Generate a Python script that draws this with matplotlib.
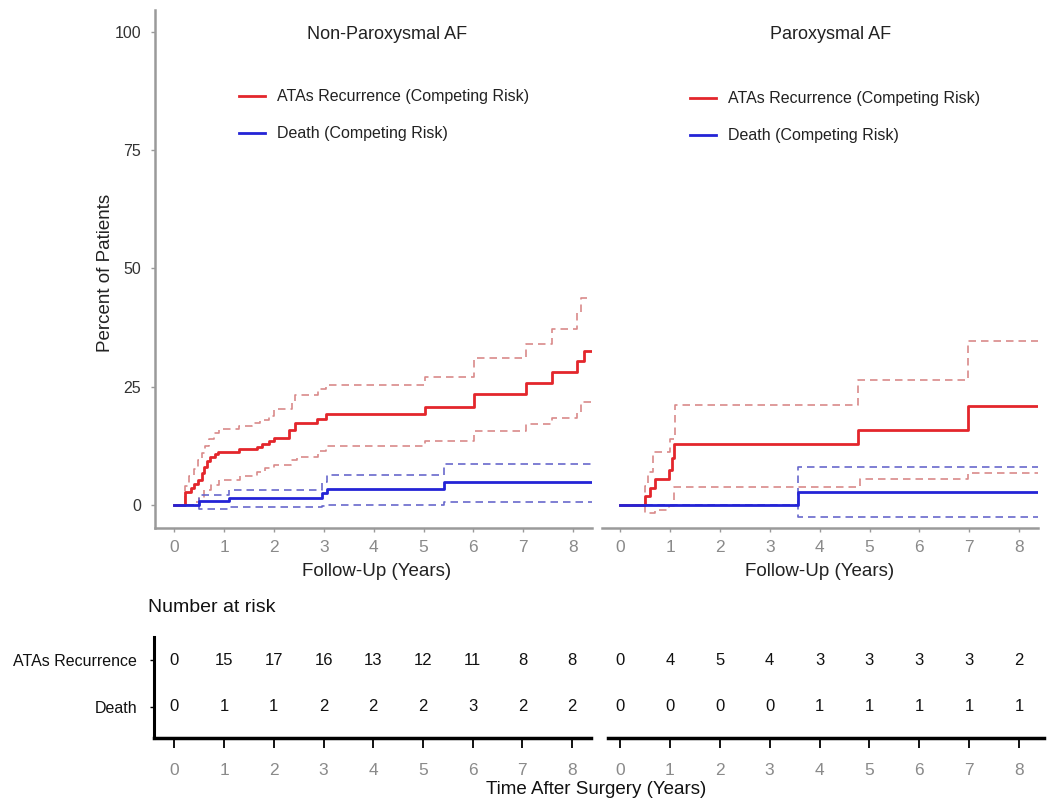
import matplotlib
matplotlib.use('Agg')
import matplotlib.pyplot as plt

plt.rcParams['font.family'] = ['Liberation Sans', 'DejaVu Sans']

# ---------------- data ----------------
# Non-Paroxysmal AF
np_ata_t = [0, 0.22, 0.33, 0.40, 0.48, 0.55, 0.60, 0.66, 0.72, 0.82, 0.88, 1.29, 1.66, 1.76,
            1.90, 2.00, 2.30, 2.42, 2.87, 3.04, 5.03, 6.02, 7.06, 7.57, 8.08, 8.21]
np_ata_v = [0, 2.8, 3.6, 4.3, 5.2, 6.8, 8.0, 9.2, 10.2, 10.8, 11.2, 11.7, 12.3, 12.9,
            13.5, 14.2, 15.9, 17.3, 18.1, 19.1, 20.6, 23.4, 25.7, 28.0, 30.3, 32.6]
np_ata_up_t = [0, 0.22, 0.30, 0.40, 0.48, 0.55, 0.62, 0.70, 0.80, 0.90, 1.29, 1.56, 1.72, 1.89,
               1.99, 2.35, 2.42, 2.89, 3.04, 5.03, 6.02, 7.06, 7.57, 8.07, 8.16]
np_ata_up_v = [0, 4.0, 6.0, 7.5, 9.5, 11.0, 12.5, 14.0, 15.2, 16.0, 16.6, 17.3, 18.0, 18.7,
               20.2, 21.8, 23.2, 24.4, 25.4, 27.1, 31.0, 34.0, 37.1, 40.5, 43.8]
np_ata_lo_t = [0, 0.40, 0.50, 0.60, 0.73, 0.90, 1.31, 1.66, 1.82, 1.99, 2.33, 2.46, 2.89, 3.04,
               5.03, 6.02, 7.06, 7.57, 8.07, 8.16]
np_ata_lo_v = [0, 0.5, 1.4, 3.2, 4.2, 5.3, 6.1, 7.0, 7.7, 8.5, 9.5, 10.2, 11.3, 12.5,
               13.5, 15.5, 17.1, 18.3, 19.7, 21.8]
np_death_t = [0, 0.49, 1.09, 2.97, 3.07, 5.41]
np_death_v = [0, 0.9, 1.5, 2.5, 3.4, 4.8]
np_death_up_v = [0, 2.0, 3.2, 4.9, 6.3, 8.7]
np_death_lo_v = [0, -0.8, -0.4, -0.2, 0.0, 0.6]
np_end = 8.38

# Paroxysmal AF
p_ata_t = [0, 0.50, 0.60, 0.70, 0.97, 1.04, 1.07, 4.76, 6.97]
p_ata_v = [0, 1.8, 3.5, 5.4, 7.3, 10.0, 12.8, 15.9, 20.8]
p_ata_up_t = [0, 0.50, 0.55, 0.65, 1.00, 1.10, 4.76, 6.97]
p_ata_up_v = [0, 4.0, 7.0, 11.1, 14.0, 21.1, 26.3, 34.7]
p_ata_lo_t = [0, 0.50, 0.70, 0.97, 1.07, 4.80, 6.97]
p_ata_lo_v = [0, -1.7, -1.2, -0.3, 3.7, 5.4, 6.7]
p_death_t = [0, 3.56]
p_death_v = [0, 2.7]
p_death_up_v = [0, 7.9]
p_death_lo_v = [0, -2.6]
p_end = 8.38

# Number at risk
risk_times = [0, 1, 2, 3, 4, 5, 6, 7, 8]
np_risk_ata = [0, 15, 17, 16, 13, 12, 11, 8, 8]
np_risk_death = [0, 1, 1, 2, 2, 2, 3, 2, 2]
p_risk_ata = [0, 4, 5, 4, 3, 3, 3, 3, 2]
p_risk_death = [0, 0, 0, 0, 1, 1, 1, 1, 1]
row_labels = ['ATAs Recurrence', 'Death']

y_ticks = [0, 25, 50, 75, 100]
x_ticks = [0, 1, 2, 3, 4, 5, 6, 7, 8]

# ---------------- styling ----------------
RED = '#e3262c'
BLUE = '#2424d6'
RED_CI = '#d98a8a'
BLUE_CI = '#6868cc'
AXIS_GREY = '#9a9a9a'
TICK_GREY = '#8a8a8a'
DASH = (0, (4.5, 3))

W, H = 1050, 806
fig = plt.figure(figsize=(W / 100, H / 100), dpi=100)


def rect(x0, y0, x1, y1):
    return [x0 / W, 1 - y1 / H, (x1 - x0) / W, (y1 - y0) / H]


def steps(ax, t, v, end, **kw):
    return ax.step(list(t) + [end], list(v) + [v[-1]], where='post', **kw)[0]


ax1 = fig.add_axes(rect(155, 10, 592, 528))
ax2 = fig.add_axes(rect(602, 10, 1038, 528))

panels = [
    (ax1, 'Non-Paroxysmal AF', np_ata_t, np_ata_v, np_ata_up_t, np_ata_up_v, np_ata_lo_t, np_ata_lo_v,
     np_death_t, np_death_v, np_death_up_v, np_death_lo_v, np_end, (-0.39, 8.38), 0.531, (0.192, 0.847), 0.508),
    (ax2, 'Paroxysmal AF', p_ata_t, p_ata_v, p_ata_up_t, p_ata_up_v, p_ata_lo_t, p_ata_lo_v,
     p_death_t, p_death_v, p_death_up_v, p_death_lo_v, p_end, (-0.37, 8.38), 0.525, (0.202, 0.843), 0.50),
]

for (ax, title, at, av, aut, auv, alt, alv, dt, dv, duv, dlv, end, xl, tx, legpos, xlx) in panels:
    steps(ax, aut, auv, end, color=RED_CI, lw=1.2, linestyle=DASH)
    steps(ax, alt, alv, end, color=RED_CI, lw=1.2, linestyle=DASH)
    steps(ax, dt, duv, end, color=BLUE_CI, lw=1.2, linestyle=DASH)
    steps(ax, dt, dlv, end, color=BLUE_CI, lw=1.2, linestyle=DASH)
    h1 = steps(ax, at, av, end, color=RED, lw=2.0, label='ATAs Recurrence (Competing Risk)')
    h2 = steps(ax, dt, dv, end, color=BLUE, lw=2.0, label='Death (Competing Risk)')

    ax.set_xlim(*xl)
    ax.set_ylim(-4.9, 104.6)
    ax.set_xticks(x_ticks)
    ax.set_yticks(y_ticks)
    ax.tick_params(axis='x', colors=AXIS_GREY, labelcolor=TICK_GREY, labelsize=12.5,
                   length=3, width=1, pad=5.5)
    for s in ['top', 'right']:
        ax.spines[s].set_visible(False)
    ax.spines['bottom'].set_color(AXIS_GREY)
    ax.spines['bottom'].set_linewidth(1.8)
    ax.spines['left'].set_color(AXIS_GREY)
    ax.spines['left'].set_linewidth(1.8)

    ax.text(tx, 0.952, title, transform=ax.transAxes, ha='center', va='center', fontsize=13, color='#222222')
    ax.set_xlabel('Follow-Up (Years)', fontsize=13.5, color='#222222')
    ax.xaxis.set_label_coords(xlx, -0.068)
    ax.legend(handles=[h1, h2], loc='upper left', bbox_to_anchor=legpos, frameon=False,
              fontsize=11.5, handlelength=1.63, handletextpad=0.75, labelspacing=1.38,
              borderpad=0, borderaxespad=0, labelcolor='#222222')

ax1.tick_params(axis='y', colors=AXIS_GREY, labelcolor='#333333', labelsize=11.5, length=3, width=1, pad=7)
ax1.set_ylabel('Percent of Patients', fontsize=13.5, color='#222222')
ax1.yaxis.set_label_coords(-0.094, 0.492)
ax2.spines['left'].set_visible(False)
ax2.tick_params(axis='y', left=False, labelleft=False)

# ---------------- Number at risk table ----------------
tb1 = fig.add_axes(rect(154, 637, 591, 738))
tb2 = fig.add_axes(rect(608, 637, 1044, 738))
row_y = [1, 0]

for tb, xl, ra, rd in [(tb1, (-0.41, 8.38), np_risk_ata, np_risk_death),
                       (tb2, (-0.24, 8.5), p_risk_ata, p_risk_death)]:
    tb.set_xlim(*xl)
    tb.set_ylim(-0.66, 1.49)
    tb.set_xticks(x_ticks)
    tb.tick_params(axis='x', colors='black', labelcolor=TICK_GREY, labelsize=12.5,
                   length=7, width=1.3, pad=11)
    for s in ['top', 'right']:
        tb.spines[s].set_visible(False)
    tb.spines['bottom'].set_linewidth(2.5)
    tb.spines['bottom'].set_color('black')
    for t, a, d in zip(risk_times, ra, rd):
        tb.text(t, row_y[0], str(a), ha='center', va='center', fontsize=12, color='#111111')
        tb.text(t, row_y[1], str(d), ha='center', va='center', fontsize=12, color='#111111')

tb1.spines['left'].set_linewidth(2.2)
tb1.spines['left'].set_color('black')
tb1.set_yticks(row_y)
tb1.set_yticklabels(row_labels)
tb1.tick_params(axis='y', colors='black', labelcolor='#111111', labelsize=11.5, length=3, width=1, pad=9)
tb2.spines['left'].set_visible(False)
tb2.tick_params(axis='y', left=False, labelleft=False)

fig.text(148 / W, 1 - 607 / H, 'Number at risk', ha='left', va='center', fontsize=14, color='#111111')
fig.text(596 / W, 1 - 790 / H, 'Time After Surgery (Years)', ha='center', va='center', fontsize=13.5, color='#111111')

fig.savefig('out.png', dpi=100)
